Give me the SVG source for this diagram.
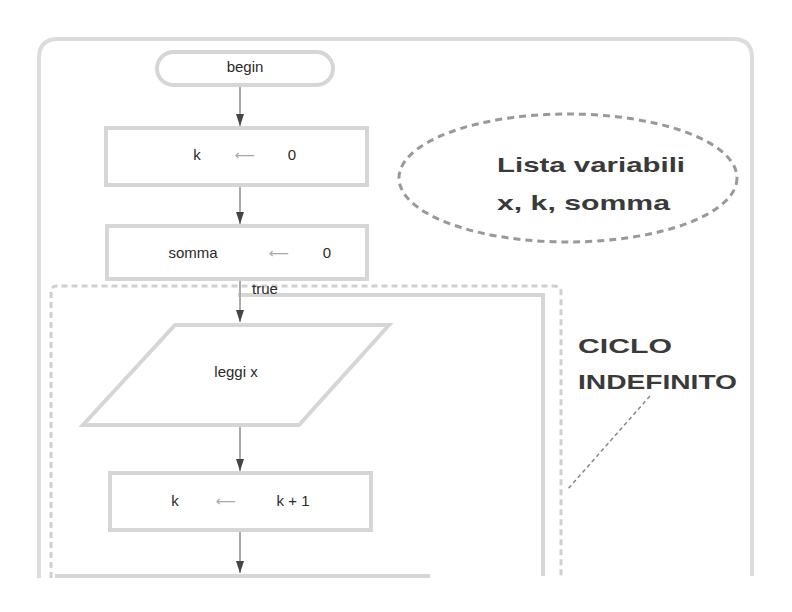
<svg xmlns="http://www.w3.org/2000/svg" width="792" height="612" viewBox="0 0 792 612">
<style>
.frame{fill:none;stroke:#dcdcdc;stroke-width:4}
.box{fill:#fff;stroke:#d6d6d6;stroke-width:4}
.conn{fill:none;stroke:#aaa;stroke-width:2}
.t{font-family:"Liberation Sans","DejaVu Sans",sans-serif;font-size:15px;fill:#2a2a2a}
.ar{font-family:"DejaVu Sans",sans-serif;fill:#aaa}
.b{font-family:"Liberation Sans","DejaVu Sans",sans-serif;font-weight:bold;font-size:21px;fill:#3a3a3a}
</style>
<defs>
<marker id="ah" markerWidth="12" markerHeight="8" refX="12" refY="4" orient="auto" markerUnits="userSpaceOnUse">
<path d="M0,0 L12,4 L0,8 Z" fill="#444"/>
</marker>
</defs>
<rect width="792" height="612" fill="#fff"/>
<path class="frame" d="M39,578 V58 Q39,39 58,39 H733 Q752,39 752,58 V576"/>
<path fill="none" stroke="#d0d0d0" stroke-width="3" stroke-dasharray="6,4" d="M51,578 V292 Q51,286 57,286 H554 Q561,286 561,292 V576"/>
<path fill="none" stroke="#d6d6d6" stroke-width="4" d="M238,295 H543 V576"/>
<g id="connectors">
<path class="conn" d="M240,86 V126" marker-end="url(#ah)"/>
<path class="conn" d="M240,185 V224" marker-end="url(#ah)"/>
<path class="conn" d="M240,279 V322" marker-end="url(#ah)"/>
<path class="conn" d="M240,426 V471" marker-end="url(#ah)"/>
<path class="conn" d="M240,531 V573" marker-end="url(#ah)"/>
<path fill="none" stroke="#d6d6d6" stroke-width="4" d="M55,576 H430"/>
<path fill="none" stroke="#888" stroke-width="1.5" stroke-dasharray="4,3" d="M650,396 L567,490"/>
</g>
<text class="t" x="252" y="294" font-size="8">true</text>
<g id="begin">
<rect class="box" x="157" y="52" width="176" height="33" rx="16.5"/>
<text class="t" x="245" y="72" text-anchor="middle">begin</text>
</g>
<g id="k0">
<rect class="box" x="106" y="128" width="261" height="57"/>
<text class="t" x="197" y="160" text-anchor="middle">k</text>
<text class="ar" x="245" y="160" font-size="14" text-anchor="middle" textLength="44">⟵</text>
<text class="t" x="292" y="160" text-anchor="middle">0</text>
</g>
<g id="somma0">
<rect class="box" x="107" y="226" width="260" height="53"/>
<text class="t" x="193" y="258" text-anchor="middle">somma</text>
<text class="ar" x="279" y="258" font-size="14" text-anchor="middle" textLength="43">⟵</text>
<text class="t" x="327" y="258" text-anchor="middle">0</text>
</g>
<g id="leggi">
<polygon class="box" points="175,325 389,325 299,425 83,425"/>
<text class="t" x="236" y="377" text-anchor="middle">leggi x</text>
</g>
<g id="kk1">
<rect class="box" x="110" y="473" width="261" height="57"/>
<text class="t" x="175" y="506" text-anchor="middle">k</text>
<text class="ar" x="226" y="506" font-size="14" text-anchor="middle" textLength="48">⟵</text>
<text class="t" x="293" y="506" text-anchor="middle">k + 1</text>
</g>
<g id="vars">
<ellipse cx="568" cy="178" rx="169" ry="64" fill="none" stroke="#999" stroke-width="3" stroke-dasharray="7,5"/>
<text class="b" x="497" y="172" textLength="188" lengthAdjust="spacingAndGlyphs">Lista variabili</text>
<text class="b" x="497" y="210" textLength="173" lengthAdjust="spacingAndGlyphs">x, k, somma</text>
</g>
<g id="ciclo">
<text class="b" x="578" y="353" textLength="94" lengthAdjust="spacingAndGlyphs">CICLO</text>
<text class="b" x="578" y="389" textLength="159" lengthAdjust="spacingAndGlyphs">INDEFINITO</text>
</g>
</svg>
